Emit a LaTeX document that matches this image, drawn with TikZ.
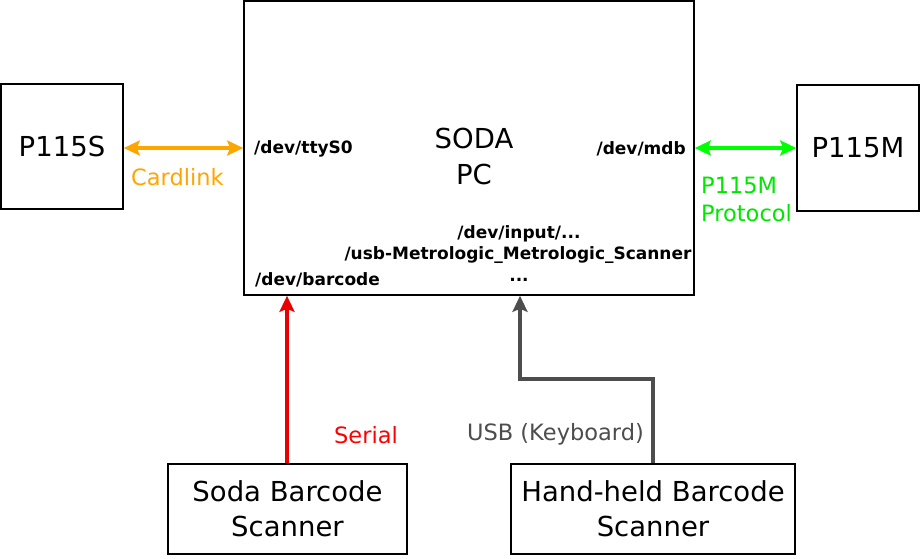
\documentclass[tikz,border=0pt]{standalone}
\usepackage{fontspec}
\setmainfont{DejaVu Sans}
\usetikzlibrary{arrows.meta}

\tikzset{
  box/.style={draw, line width=1.6pt, inner sep=0pt, align=center, font=\fontsize{27.5}{35}\selectfont},
  devlabel/.style={inner sep=0pt, font=\fontsize{17}{21}\selectfont\bfseries},
  linklabel/.style={inner sep=0pt, anchor=west, align=left, font=\fontsize{22.5}{28}\selectfont},
  onearrow/.style={line width=3.2pt, -{Stealth[length=16pt,width=15pt,inset=3pt]}},
  twoarrow/.style={line width=3.2pt, {Stealth[length=16pt,width=15pt,inset=3pt]}-{Stealth[length=16pt,width=15pt,inset=3pt]}},
}

\begin{document}
\begin{tikzpicture}[x=1pt,y=-1pt]
  \useasboundingbox (0,0) rectangle (921,558);

  % Draw the PC and the boxes around it
  \node[box, minimum width=450pt, minimum height=294pt] (pc) at (469,148) {};
  \node[box, minimum width=122pt, minimum height=125pt] (p115s) at (62,146.5) {P115S};
  \node[box, minimum width=122pt, minimum height=126pt] (p115m) at (858,148) {P115M};
  \node[box, minimum width=239pt, minimum height=90pt] (sodascan) at (287.5,509) {Soda Barcode\\Scanner};
  \node[box, minimum width=284pt, minimum height=90pt] (handscan) at (653,509) {Hand-held Barcode\\Scanner};

  % Text inside the PC
  \node[align=center, inner sep=0pt, font=\fontsize{27.5}{36}\selectfont] (pcname) at (474,156) {SODA\\PC};
  \node[devlabel, anchor=west] (ttys) at (254,149) {/dev/ttyS0};
  \node[devlabel, anchor=east] (mdb) at (686,149) {/dev/mdb};
  \node[devlabel] (input) at (519,234) {/dev/input/...};
  \node[devlabel] (usbname) at (518,255) {/usb-Metrologic\_Metrologic\_Scanner};
  \node[devlabel] (dots) at (519,280) {...};
  \node[devlabel, anchor=west] (barcode) at (255,280) {/dev/barcode};

  % Cardlink between P115S and PC
  \draw[twoarrow, draw={rgb,255:red,255;green,165;blue,0}] (p115s.east |- pc.west) -- (pc.west);
  \node[linklabel, text={rgb,255:red,255;green,165;blue,0}] (cardlink) at (131,177) {Cardlink};

  % P115M protocol between PC and P115M
  \draw[twoarrow, draw={rgb,255:red,0;green,255;blue,0}] (pc.east |- p115m.west) -- (p115m.west);
  \node[linklabel, text={rgb,255:red,0;green,230;blue,0}] (protocol) at (701,199) {P115M\\Protocol};

  % Serial from the soda scanner
  \draw[onearrow, draw={rgb,255:red,235;green,0;blue,0}] ([xshift=-0.5pt]sodascan.north) -- ([xshift=-0.5pt]sodascan.north |- pc.south);
  \node[linklabel, text=red] (serial) at (334,435) {Serial};

  % USB from the hand-held scanner
  \coordinate (usbbend) at (520,379);
  \draw[onearrow, draw={rgb,255:red,77;green,77;blue,77}] (handscan.north) |- (usbbend) -- (usbbend |- pc.south);
  \node[linklabel, anchor=east, text={rgb,255:red,77;green,77;blue,77}] (usb) at (644,434) {USB (Keyboard)};
\end{tikzpicture}
\end{document}
